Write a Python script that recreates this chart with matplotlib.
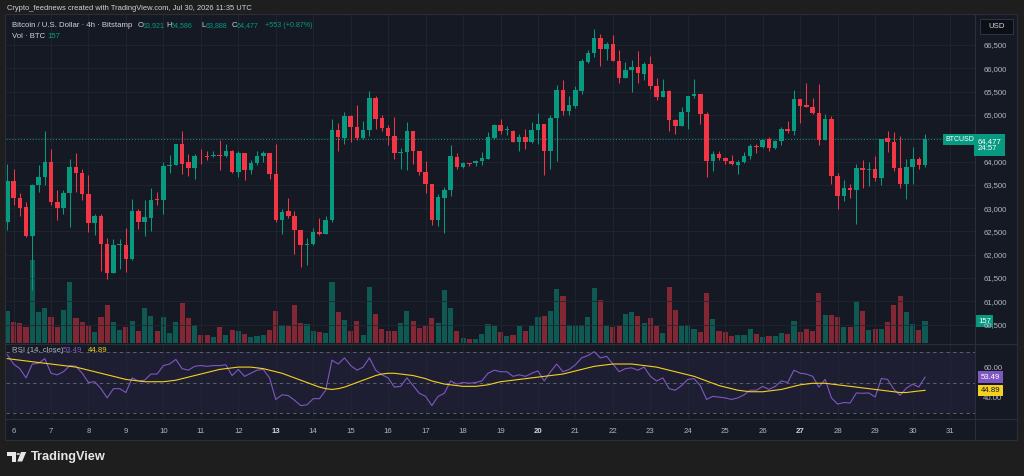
import numpy as np
import matplotlib.pyplot as plt
import matplotlib.transforms as mtransforms
from matplotlib.patches import Rectangle, Polygon, Circle
from matplotlib.lines import Line2D

plt.rcParams['font.family'] = ['Liberation Sans', 'DejaVu Sans']

# 4h candles, Jul 5 20:00 -> Jul 30 08:00 (Bitstamp BTC/USD)
opens = [62701, 63573, 63223, 63023, 62402, 63501, 63672, 63987, 63130, 63009,
         63330, 63880, 63758, 63308, 62687, 62830, 62237, 61616, 62209, 62216,
         61902, 62930, 62701, 62787, 63201, 63166, 63894, 63930, 64372, 63987,
         63866, 64122, 64122, 64108, 64144, 64122, 64236, 63765, 64187, 63822,
         63965, 64122, 64179, 63737, 62737, 62930, 62823, 62537, 62202, 62223,
         62487, 62451, 62751, 64686, 64508, 64986, 64736, 64501, 64679, 65365,
         64936, 64715, 64558, 64179, 64201, 64658, 64215, 63772, 63508, 62751,
         63223, 63394, 64101, 63880, 63972, 63958, 64001, 64058, 64515, 64786,
         64672, 64665, 64415, 64522, 64415, 64679, 64808, 64215, 64929, 65543,
         65079, 65200, 65522, 66143, 66322, 66650, 66414, 66521, 66164, 65800,
         65972, 66022, 65879, 66093, 65629, 65393, 65522, 64901, 64772, 65058,
         65400, 65450, 65022, 64008, 64165, 64072, 64001, 63930, 63987, 64115,
         64329, 64301, 64486, 64294, 64437, 64701, 64644, 65343, 65222, 65165,
         65036, 64472, 64915, 63687, 63251, 63430, 63380, 63858, 63808, 63830,
         63644, 64501, 64415, 63858, 63508, 63880, 64058, 63921]
highs = [63951, 63844, 63323, 63130, 63510, 63930, 64665, 64272, 63380, 63380,
         64044, 64187, 63844, 63701, 62880, 62880, 62359, 62330, 62340, 62573,
         63201, 62987, 63180, 63430, 63344, 63987, 64144, 64372, 64651, 64165,
         64165, 64258, 64236, 64236, 64465, 64365, 64240, 64236, 64190, 64022,
         64222, 64222, 64185, 64379, 62987, 63216, 62930, 62540, 62359, 62573,
         62787, 62830, 64915, 64829, 65058, 65001, 65215, 64865, 65522, 65415,
         65008, 64794, 64951, 64294, 64844, 64665, 64220, 64008, 63512, 63294,
         63451, 64344, 64179, 63987, 63975, 64037, 64201, 64629, 64808, 64915,
         64758, 64679, 64594, 64701, 64844, 65043, 64815, 65001, 65643, 65750,
         65400, 65615, 66200, 66393, 66843, 66736, 66557, 66714, 66400, 66129,
         66179, 66379, 66129, 66272, 65786, 65772, 65536, 64915, 65165, 65415,
         65772, 65455, 65072, 64236, 64236, 64094, 64144, 64022, 64201, 64379,
         64379, 64486, 64522, 64472, 64751, 64865, 65536, 65350, 65686, 65365,
         65664, 65022, 64972, 63751, 63594, 63523, 63951, 64037, 63987, 64115,
         64490, 64658, 64629, 64558, 64044, 64315, 64094, 64586]
lows = [62537, 63059, 62823, 62390, 61238, 63344, 63487, 63059, 62737, 62880,
        62594, 63344, 63166, 62487, 62416, 61652, 61488, 61600, 61702, 61630,
        61890, 62559, 62402, 62502, 63059, 62880, 63758, 63915, 63737, 63687,
        63615, 63951, 64022, 64094, 63822, 64094, 63760, 63665, 63594, 63723,
        63915, 63987, 63630, 62701, 62451, 62794, 62023, 61738, 61788, 62216,
        62430, 62437, 62701, 64236, 64379, 64429, 64451, 64486, 64558, 64701,
        64665, 64344, 64044, 63844, 63808, 63951, 63701, 63323, 62630, 62616,
        62466, 63251, 63844, 63858, 63901, 63901, 63915, 64044, 64486, 64594,
        64572, 64410, 64236, 64258, 64401, 64379, 63701, 63830, 64008, 65001,
        65001, 65143, 65450, 66107, 66250, 66057, 66179, 66160, 65686, 65786,
        65500, 65686, 65757, 65558, 65322, 65379, 64665, 64594, 64758, 64701,
        65358, 64808, 63665, 63787, 64022, 63937, 63915, 63737, 63972, 64044,
        64187, 64286, 64236, 64272, 64344, 64615, 64572, 64829, 65160, 65022,
        64344, 64465, 63523, 62987, 63144, 63216, 62666, 63437, 63473, 63573,
        63501, 64201, 63787, 63437, 63187, 63508, 63830, 63888]
closes = [63573, 63216, 63009, 62402, 63501, 63672, 63987, 63123, 63009, 63330,
          63880, 63744, 63294, 62687, 62830, 62237, 61616, 62216, 62237, 61902,
          62930, 62701, 62809, 63180, 63166, 63894, 63930, 64372, 63951, 63866,
          64108, 64108, 64101, 64144, 64115, 64236, 63765, 64172, 63822, 63965,
          64122, 64179, 63737, 62737, 62916, 62823, 62537, 62202, 62237, 62487,
          62451, 62751, 64679, 64522, 64972, 64736, 64501, 64679, 65365, 64915,
          64715, 64558, 64179, 64201, 64658, 64215, 63772, 63508, 62751, 63237,
          63394, 64115, 63880, 63965, 63944, 64008, 64072, 64522, 64786, 64658,
          64686, 64415, 64522, 64415, 64679, 64808, 64215, 64929, 65543, 65079,
          65215, 65536, 66150, 66322, 66650, 66414, 66521, 66164, 65786, 65965,
          66022, 65900, 66093, 65629, 65393, 65522, 64901, 64772, 65058, 65400,
          65450, 65022, 64008, 64165, 64072, 64001, 63937, 63987, 64115, 64322,
          64301, 64472, 64294, 64444, 64701, 64644, 65343, 65200, 65165, 65036,
          64472, 64915, 63687, 63251, 63430, 63380, 63858, 63808, 63830, 63644,
          64486, 64415, 63858, 63508, 63880, 64058, 63915, 64477]
volumes = [229, 155, 145, 113, 599, 227, 254, 186, 116, 242,
           444, 181, 150, 126, 82, 188, 278, 155, 97, 113,
           162, 85, 254, 198, 89, 186, 72, 152, 292, 179,
           133, 60, 58, 46, 118, 56, 97, 87, 68, 46,
           53, 60, 97, 234, 130, 126, 278, 142, 138, 85,
           77, 72, 440, 227, 169, 85, 157, 58, 403, 208,
           104, 85, 89, 145, 229, 157, 111, 126, 179, 145,
           382, 251, 89, 36, 31, 31, 68, 138, 126, 80,
           53, 60, 121, 87, 121, 188, 198, 234, 394, 341,
           130, 126, 130, 191, 398, 312, 123, 113, 121, 208,
           222, 196, 142, 179, 121, 72, 403, 239, 121, 130,
           104, 80, 362, 174, 85, 80, 48, 56, 60, 101,
           65, 46, 48, 53, 72, 65, 162, 82, 104, 85,
           362, 200, 200, 188, 118, 113, 307, 232, 92, 101,
           104, 152, 273, 343, 222, 140, 94, 157]
rsi = [68, 62, 59, 53, 62, 62.5, 65.5, 56, 55, 57,
       61, 60.5, 56, 50, 50.5, 46, 40, 46, 46, 43.5,
       53, 51, 51.5, 55.5, 55.5, 61, 62, 65, 59, 58,
       60.5, 61, 60.5, 61, 61, 61.5, 54.5, 58.5, 54, 56,
       58, 58.5, 53, 39, 42, 41.5, 38.5, 35, 35.5, 39.5,
       39.5, 45, 64.5, 62, 66, 61, 58, 60, 66, 58,
       55, 53, 47, 47.5, 53, 48, 43, 41, 35, 41,
       43, 51, 49, 50, 49.5, 50, 51, 56, 58, 57,
       57, 54, 55, 54, 56, 57.5, 51, 57, 62, 57,
       58.5, 61.5, 66, 67.5, 70, 66, 67, 62, 57, 59,
       59.5, 58, 60, 54, 51, 53, 46, 45, 48, 52,
       52.5, 48, 39, 41, 40.5, 40, 39, 40, 42, 45,
       45, 47.5, 45.5, 47.5, 51, 50, 58, 56, 55.5, 54,
       47, 52, 40, 36, 37, 36.7, 43.2, 43, 43.2, 40.6,
       52.6, 52, 45.6, 41.7, 46.3, 48.9, 47.1, 53.49]
rsi_ma = [65.5, 65, 64.5, 64, 63.5, 63, 62.5, 62, 61.5, 61,
          60.5, 60, 59, 58, 57, 56, 55, 54, 53, 52,
          51.5, 51, 50.5, 50.5, 50.5, 50.5, 51, 51.5, 52.5, 53.5,
          54.5, 55.5, 56.5, 57.5, 58.5, 59, 59.5, 60, 60, 60,
          59.5, 59, 58, 57, 56, 54.5, 53, 51.5, 50, 48.5,
          47, 46, 45.5, 46, 47, 48.5, 50, 51.5, 53, 54.5,
          55.5, 56, 56, 55.5, 55, 54.5, 53.5, 52.5, 51, 50,
          49, 48.5, 48, 47.5, 47.5, 47.5, 48, 48.5, 49.5, 50.5,
          51, 51.5, 52, 52.5, 53, 53.5, 54, 54.5, 55, 55.5,
          56.5, 57.5, 58.5, 59.5, 60.5, 61, 61.5, 62, 62, 62,
          62, 61.5, 61, 60.5, 60, 59, 58, 57, 56, 55,
          54, 52.5, 51, 49.5, 48, 47, 46, 45, 44.5, 44,
          44, 44, 44.5, 45, 45.5, 46.5, 47.5, 48.5, 49, 49.5,
          49.5, 49.5, 49, 48.5, 48, 47.5, 47, 46.5, 46, 45.5,
          45, 44.5, 44, 43.5, 43.5, 44, 44.5, 44.89]
days = list(range(6, 32))          # day labels on the time axis
day_first_bar = 1                  # bar index of Jul 6 00:00
price_ticks = [60500, 61000, 61500, 62000, 62500, 63000, 63500, 64000, 65000, 65500, 66000, 66500]
grid_prices = list(range(60500, 67000, 500))
last_price = 64477

W, H = 1024, 476
def fx(px):
    return px / W
def fy(py):
    return 1 - py / H

OUTER = '#1e1e1e'
BG = '#151924'
GRID = '#222631'
TXT = '#b2b5be'
UP = '#089981'
DOWN = '#f23645'
PURPLE = '#7e57c2'
YELLOW = '#f5d020'
FS = 5.6

o = np.array(opens); h = np.array(highs); l = np.array(lows); c = np.array(closes)
x = np.arange(len(o))
up = c >= o
cols = np.where(up, UP, DOWN)
day_idx = [day_first_bar + 6 * k for k in range(len(days))]

fig = plt.figure(figsize=(10.24, 4.76), dpi=100, facecolor=OUTER)
fig.patches.append(Rectangle((fx(5), fy(440)), fx(1017) - fx(5), fy(14) - fy(440),
                             transform=fig.transFigure, facecolor=BG,
                             edgecolor='#2a2e39', lw=0.8, zorder=-5))

ax = fig.add_axes([fx(6), fy(343), fx(975) - fx(6), fy(15) - fy(343)])
axv = ax.twinx()
ax_rsi = fig.add_axes([fx(6), fy(418), fx(975) - fx(6), fy(345) - fy(418)], sharex=ax)
axv.set_zorder(1)
ax.set_zorder(2)
ax_rsi.set_zorder(1)
for a in (ax, axv, ax_rsi):
    a.patch.set_visible(False)
    for s in a.spines.values():
        s.set_visible(False)

# volume
axv.bar(x, volumes, width=0.82, color=cols, alpha=0.5, linewidth=0)
axv.set_ylim(0, 2375)
axv.set_yticks([])

# candles
body_lo = np.minimum(o, c)
body_h = np.maximum(np.abs(c - o), 18)
ax.vlines(x, l, h, colors=cols, lw=0.75, zorder=3)
ax.bar(x, body_h, bottom=body_lo, width=0.72, color=cols, linewidth=0, zorder=4)
ax.axhline(last_price, color=UP, lw=0.7, ls=(0, (1, 2)), zorder=2)
for gp in grid_prices:
    ax.axhline(gp, color=GRID, lw=0.6, zorder=0)

ax.set_xlim(-0.21, 155.0)
ax.set_ylim(60105, 67144)
ax.set_yticks(price_ticks)
ax.set_yticklabels([f'{p:,}' for p in price_ticks])
ax.yaxis.tick_right()
ax.tick_params(axis='y', length=0, pad=6, labelsize=FS, labelcolor=TXT)
ax.set_xticks(day_idx)
ax.tick_params(axis='x', length=0, labelbottom=False)
ax.grid(True, axis='x', color=GRID, lw=0.6, zorder=0)

# RSI pane
ax_rsi.axhspan(30, 70, color=PURPLE, alpha=0.09, lw=0)
for lvl in (70, 50, 30):
    ax_rsi.axhline(lvl, color='#6a6d78', lw=0.6, ls=(0, (4, 4)))
ax_rsi.plot(x, rsi, color=PURPLE, lw=0.8, zorder=3)
ax_rsi.plot(x, rsi_ma, color=YELLOW, lw=0.8, zorder=3)
ax_rsi.set_ylim(26.95, 74.35)
ax_rsi.set_yticks([40, 60])
ax_rsi.set_yticklabels(['40.00', '60.00'])
ax_rsi.yaxis.tick_right()
ax_rsi.tick_params(axis='y', length=0, pad=6, labelsize=FS, labelcolor=TXT)
ax_rsi.grid(True, axis='x', color=GRID, lw=0.6)
ax_rsi.set_xticks(day_idx)
ax_rsi.set_xticklabels([str(d) for d in days])
ax_rsi.tick_params(axis='x', length=0, pad=7, labelsize=FS, labelcolor=TXT)
for lab, d in zip(ax_rsi.get_xticklabels(), days):
    if d in (13, 20, 27):
        lab.set_fontweight('bold')
        lab.set_color('#d1d4dc')

# right-side value tags
tr = mtransforms.blended_transform_factory(ax.transAxes, ax.transData)
ax.text(1.003, last_price - 125, f'{last_price:,}\n24:57', transform=tr, ha='left', va='center',
        fontsize=FS, color='white', linespacing=1.15, zorder=6,
        bbox=dict(boxstyle='square,pad=0.45', fc=UP, ec='none'))
ax.text(0.999, last_price, 'BTCUSD', transform=tr, ha='right', va='center', fontsize=5,
        color='white', zorder=6, bbox=dict(boxstyle='square,pad=0.3', fc=UP, ec='none'))
trv = mtransforms.blended_transform_factory(axv.transAxes, axv.transData)
axv.text(1.003, volumes[-1], f'{volumes[-1]}', transform=trv, ha='left', va='center',
         fontsize=FS, color='white', zorder=6, clip_on=False,
         bbox=dict(boxstyle='square,pad=0.3', fc=UP, ec='none'))
trr = mtransforms.blended_transform_factory(ax_rsi.transAxes, ax_rsi.transData)
ax_rsi.text(1.006, rsi[-1], f'{rsi[-1]:.2f}', transform=trr, ha='left', va='center',
            fontsize=FS, color='white', bbox=dict(boxstyle='square,pad=0.3', fc=PURPLE, ec='none'))
ax_rsi.text(1.006, rsi_ma[-1], f'{rsi_ma[-1]:.2f}', transform=trr, ha='left', va='center',
            fontsize=FS, color='#131722', bbox=dict(boxstyle='square,pad=0.3', fc=YELLOW, ec='none'))

# pane separators
for (x0, y0, x1, y1) in [(5, 344, 1017, 344), (975, 14, 975, 440), (5, 418.5, 1017, 418.5)]:
    fig.add_artist(Line2D([fx(x0), fx(x1)], [fy(y0), fy(y1)], color='#2a2e39', lw=0.8))

# header texts
fig.text(fx(7), fy(9), 'Crypto_feednews created with TradingView.com, Jul 30, 2026 11:35 UTC',
         fontsize=5.4, color='#d1d4dc', va='center')
y1 = fy(25.5)
fig.text(fx(11.5), y1, 'Bitcoin / U.S. Dollar · 4h · Bitstamp', fontsize=FS, color='#d1d4dc', va='center')
for px, s, col in [(137.5, 'O', '#d1d4dc'), (142.5, '63,921', UP), (166, 'H', '#d1d4dc'),
                   (170.5, '64,586', UP), (201.5, 'L', '#d1d4dc'), (205.5, '63,888', UP),
                   (232, 'C', '#d1d4dc'), (236.5, '64,477', UP), (265, '+553 (+0.87%)', UP)]:
    fig.text(fx(px), y1, s, fontsize=FS if col != UP else 5.15, color=col, va='center')
fig.text(fx(11.5), fy(36.5), 'Vol · BTC', fontsize=FS, color='#d1d4dc', va='center')
fig.text(fx(47.5), fy(36.5), '157', fontsize=FS, color=UP, va='center')
fig.text(fx(11.5), fy(351), 'RSI (14, close)', fontsize=FS, color=TXT, va='center')
fig.text(fx(63), fy(351), '53.49', fontsize=FS, color=PURPLE, va='center')
fig.text(fx(88), fy(351), '44.89', fontsize=FS, color=YELLOW, va='center')

# USD box
fig.patches.append(Rectangle((fx(980), fy(34)), fx(33), fy(0) - fy(15), transform=fig.transFigure,
                             facecolor='#0d0f16', edgecolor='#363a45', lw=0.6))
fig.text(fx(996.5), fy(26.5), 'USD', fontsize=FS, color='#d1d4dc', ha='center', va='center')

# TradingView logo
LOGO = '#e6e6e6'
for patch in [Rectangle((fx(7.3), fy(455.5)), fx(8.2), fy(0) - fy(3.5), transform=fig.transFigure),
              Rectangle((fx(11.6), fy(461.5)), fx(3.9), fy(0) - fy(9.5), transform=fig.transFigure),
              Circle((fx(18.2), fy(454)), fx(1.8), transform=fig.transFigure),
              Polygon([(fx(21), fy(452)), (fx(26.2), fy(452)), (fx(22.2), fy(461.5)), (fx(17.3), fy(461.5))],
                      closed=True, transform=fig.transFigure)]:
    patch.set_facecolor(LOGO)
    patch.set_edgecolor('none')
    fig.patches.append(patch)
fig.text(fx(31), fy(457), 'TradingView', fontsize=9.2, fontweight='bold', color=LOGO, va='center')

fig.savefig('out.png', dpi=100, facecolor=OUTER)
